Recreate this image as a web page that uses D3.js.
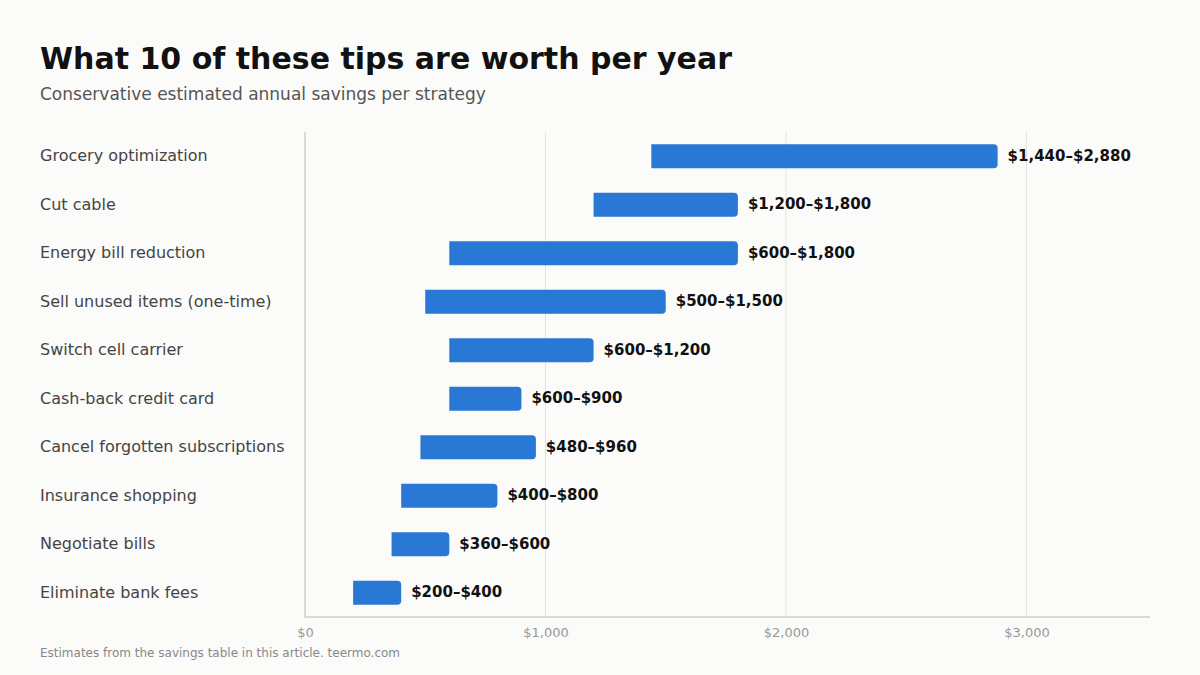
<!DOCTYPE html>
<html>
<head>
<meta charset="utf-8">
<script src="https://cdn.jsdelivr.net/npm/d3@7"></script>
<style>
  html, body { margin: 0; padding: 0; background: #fbfbfa; }
  svg { display: block; font-family: "DejaVu Sans", sans-serif; }
</style>
</head>
<body>
<svg id="chart" width="1200" height="675"></svg>
<script>
// data
const strategies = [
    "Grocery optimization",
    "Cut cable",
    "Energy bill reduction",
    "Sell unused items (one-time)",
    "Switch cell carrier",
    "Cash-back credit card",
    "Cancel forgotten subscriptions",
    "Insurance shopping",
    "Negotiate bills",
    "Eliminate bank fees"
];
const lowValues = [1440, 1200, 600, 500, 600, 600, 480, 400, 360, 200];
const highValues = [2880, 1800, 1800, 1500, 1200, 900, 960, 800, 600, 400];
const xTicks = [0, 1000, 2000, 3000];

const rows = strategies.map((s, i) => ({ name: s, low: lowValues[i], high: highValues[i] }));

const svg = d3.select("#chart");
const fmt = d3.format("$,");

// layout
const plotLeft = 305, plotRight = 1150, plotTop = 132, plotBottom = 617;
const barH = 24;
const radius = 4;

const x = d3.scaleLinear()
    .domain([0, d3.max(highValues) * 1.22])
    .range([plotLeft, plotRight]);

const y = d3.scaleBand()
    .domain(strategies)
    .range([plotTop, plotBottom]);

// titles
svg.append("text")
    .attr("x", 40).attr("y", 69)
    .style("font-size", "30px").style("font-weight", "bold")
    .style("fill", "#111")
    .text("What 10 of these tips are worth per year");

svg.append("text")
    .attr("x", 40).attr("y", 100)
    .style("font-size", "17px")
    .style("fill", "#555")
    .text("Conservative estimated annual savings per strategy");

// gridlines
svg.append("g")
    .selectAll("line")
    .data(xTicks.filter(d => d > 0))
    .enter().append("line")
    .attr("x1", d => x(d)).attr("x2", d => x(d))
    .attr("y1", plotTop).attr("y2", plotBottom)
    .attr("stroke", "#e3e3e0")
    .attr("stroke-width", 1);

// bottom axis
const xAxis = svg.append("g")
    .attr("transform", `translate(0 ${plotBottom})`)
    .call(d3.axisBottom(x).tickValues(xTicks).tickFormat(fmt).tickSize(0).tickPadding(11));
xAxis.select(".domain").attr("stroke", "#cfcfca").attr("stroke-width", 1.5)
    .attr("d", `M${plotLeft},0H${plotRight}`);
xAxis.selectAll("text")
    .style("font-size", "13px").style("fill", "#999")
    .style("font-family", "DejaVu Sans, sans-serif");

// left axis line
svg.append("line")
    .attr("x1", plotLeft).attr("x2", plotLeft)
    .attr("y1", plotTop).attr("y2", plotBottom)
    .attr("stroke", "#cfcfca")
    .attr("stroke-width", 1.5);

// category labels
svg.append("g")
    .selectAll("text")
    .data(rows)
    .enter().append("text")
    .attr("x", 40)
    .attr("y", d => y(d.name) + y.bandwidth() / 2)
    .attr("dy", "0.32em")
    .style("font-size", "16px")
    .style("fill", "#444")
    .text(d => d.name);

// bars with rounded right end
function barPath(d) {
    const x0 = x(d.low), x1 = x(d.high);
    const y0 = y(d.name) + (y.bandwidth() - barH) / 2, y1 = y0 + barH;
    return `M${x0},${y0}H${x1 - radius}Q${x1},${y0} ${x1},${y0 + radius}` +
        `V${y1 - radius}Q${x1},${y1} ${x1 - radius},${y1}H${x0}Z`;
}

svg.append("g")
    .selectAll("path")
    .data(rows)
    .enter().append("path")
    .attr("d", barPath)
    .attr("fill", "#2a78d6");

// value labels
svg.append("g")
    .selectAll("text")
    .data(rows)
    .enter().append("text")
    .attr("x", d => x(d.high) + 10)
    .attr("y", d => y(d.name) + y.bandwidth() / 2)
    .attr("dy", "0.3em")
    .style("font-size", "15px")
    .style("font-weight", "bold")
    .style("fill", "#111")
    .text(d => `${fmt(d.low)}–${fmt(d.high)}`);

// footer
svg.append("text")
    .attr("x", 40).attr("y", 657)
    .style("font-size", "12px")
    .style("fill", "#888")
    .text("Estimates from the savings table in this article. teermo.com");
</script>
</body>
</html>
